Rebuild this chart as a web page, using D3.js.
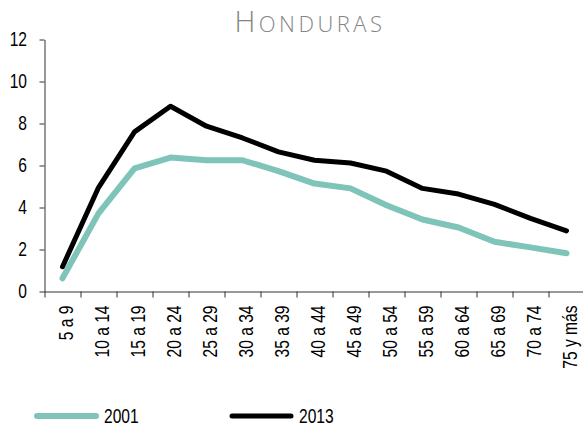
<!DOCTYPE html>
<html><head><meta charset="utf-8">
<script src="https://cdn.jsdelivr.net/npm/d3@7"></script>
<style>
body{margin:0;background:#fff;}
svg{display:block;}
</style></head>
<body>
<svg id="c" width="583" height="427"></svg>
<script>
const categories = ["5 a 9","10 a 14","15 a 19","20 a 24","25 a 29","30 a 34","35 a 39","40 a 44","45 a 49","50 a 54","55 a 59","60 a 64","65 a 69","70 a 74","75 y más"];
const series2001 = [0.63,3.72,5.86,6.38,6.25,6.25,5.73,5.14,4.91,4.11,3.43,3.05,2.37,2.10,1.82];
const series2013 = [1.18,4.95,7.60,8.82,7.87,7.31,6.65,6.25,6.12,5.73,4.91,4.64,4.15,3.48,2.89];
const yTicks = [0,2,4,6,8,10,12];
const seriesNames = ["2001","2013"];
const colors = ["#7fc4b8","#000000"];

const font = "'Liberation Sans',Arial,sans-serif";
const fs = 20, sx = 0.78;
const svg = d3.select("#c");
const mLeft = 44.5, mBottom = 291.5, mTop = 39.5, band = 36;
const x = d3.scaleBand().domain(categories).range([mLeft, mLeft + band*categories.length]).padding(0);
const y = d3.scaleLinear().domain([0,12]).range([mBottom, mTop]);

// title
const t = svg.append("text").attr("x", 310).attr("y", 32).attr("text-anchor","middle")
  .attr("fill","#858585").attr("font-family","'Open Sans',sans-serif").attr("font-weight",300)
  .attr("letter-spacing","3.5px");
t.append("tspan").attr("font-size",29).text("H");
t.append("tspan").attr("font-size",22).text("ONDURAS");

// y axis
const yAxis = svg.append("g").attr("transform",`translate(${mLeft},0)`)
  .call(d3.axisLeft(y).tickValues(yTicks).tickSize(5).tickPadding(13).tickSizeOuter(0));
yAxis.select(".domain").attr("stroke","#333");
yAxis.selectAll(".tick line").attr("stroke","#333");
yAxis.selectAll("text").attr("font-family",font).attr("font-size",fs).attr("fill","#000")
  .attr("x",0).attr("transform",`translate(-17.5,0) scale(${sx},1)`);

// x axis
const xAxis = svg.append("g").attr("transform",`translate(0,${mBottom})`)
  .call(d3.axisBottom(x).tickSize(0).tickSizeOuter(0));
xAxis.select(".domain").attr("stroke","#333").attr("d",`M${mLeft},0.5H583`);
xAxis.selectAll(".tick line").remove();
const bounds = categories.map(c => x(c));
xAxis.selectAll("line.b").data(bounds).enter().append("line")
  .attr("x1",d=>d+0.5).attr("x2",d=>d+0.5).attr("y1",0).attr("y2",6).attr("stroke","#333");
xAxis.selectAll(".tick text")
  .attr("font-family",font).attr("font-size",fs).attr("fill","#000")
  .attr("text-anchor","end")
  .attr("transform",`translate(0,14) rotate(-90) scale(${sx},1)`)
  .attr("x",0).attr("y",0).attr("dy","0.5em");

// lines
const line = d3.line().x((d,i)=>x(categories[i]) + x.bandwidth()/2).y(d=>y(d));
const data = [series2001, series2013];
const widths = [6, 5];
data.forEach((s,k)=>{
  svg.append("path").datum(s).attr("d",line).attr("fill","none")
    .attr("stroke",colors[k]).attr("stroke-width",widths[k])
    .attr("stroke-linejoin","round").attr("stroke-linecap","round");
});

// legend
const legX = [37, 232];
seriesNames.forEach((n,k)=>{
  svg.append("line").attr("x1",legX[k]).attr("x2",legX[k]+59).attr("y1",416).attr("y2",416)
    .attr("stroke",colors[k]).attr("stroke-width",widths[k]).attr("stroke-linecap","round");
  svg.append("text").attr("transform",`translate(${legX[k]+67},423) scale(${sx},1)`)
    .attr("font-family",font).attr("font-size",fs).attr("fill","#000").text(n);
});
</script>
</body></html>
